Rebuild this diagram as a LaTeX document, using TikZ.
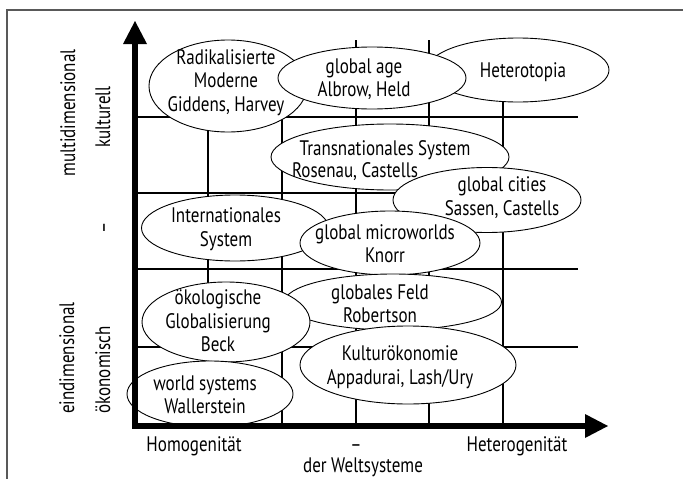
\documentclass[tikz,border=0pt]{standalone}
\usepackage{fontspec}
\setmainfont[FakeStretch=0.81]{PT Sans}
\usetikzlibrary{shapes.geometric}
\begin{document}
\begin{tikzpicture}[x=1pt,y=-1pt,
  ell/.style={ellipse, draw=black, line width=0.9pt, fill=white, inner sep=0pt},
  lbl/.style={font=\fontsize{21}{23.5}\selectfont, align=center, inner sep=0pt},
  gridline/.style={line width=1.4pt},
  axisline/.style={line width=6pt},
  framestyle/.style={draw=black!65, line width=1.3pt}]
\useasboundingbox (0,0) rectangle (683,479);
% frame
\draw[framestyle] (7,479) -- (7,10) -- (683,10);
% grid
\foreach \yy in {117,193,269,347} \draw[gridline] (135,\yy) -- (578,\yy);
\foreach \xx in {208,282} \draw[gridline] (\xx,117) -- (\xx,426);
\foreach \xx in {356,429,503} \draw[gridline] (\xx,40) -- (\xx,426);
% ellipses
\node[ell, minimum width=158pt, minimum height=92pt] (eRad) at (228,86) {};
\node[ell, minimum width=182pt, minimum height=64pt] (eHet) at (518,70) {};
\node[ell, minimum width=188pt, minimum height=62pt] (eAge) at (372,78) {};
\node[ell, minimum width=238pt, minimum height=66pt] (eTrans) at (390,157) {};
\node[ell, minimum width=188pt, minimum height=65pt] (eCities) at (487,200) {};
\node[ell, minimum width=187pt, minimum height=66pt] (eIntl) at (235,228) {};
\node[ell, minimum width=180pt, minimum height=64pt] (eMicro) at (390,243) {};
\node[ell, minimum width=217pt, minimum height=56pt] (eFeld) at (393,302) {};
\node[ell, minimum width=216pt, minimum height=78pt] (eKult) at (408,365) {};
\node[ell, minimum width=168pt, minimum height=80pt] (eOeko) at (226,322) {};
\node[ell, minimum width=166pt, minimum height=66pt] (eWorld) at (210,394) {};
% axes
\coordinate (O) at (135,426);
\coordinate (Ytip) at (135,21);
\coordinate (Xtip) at (608,426);
\draw[axisline] (135,43) -- (O) -- (586,426);
\fill (Ytip) -- ++(-12,23) -- ++(24,0) -- cycle;
\fill (Xtip) -- ++(-23,-12) -- ++(0,24) -- cycle;
% texts in ellipses
\node[lbl] (tRad) at (226,82.5) {Radikalisierte\\Moderne\\Giddens, Harvey};
\node[lbl] (tAge) at (364,79) {global age\\Albrow, Held};
\node[lbl] (tHet) at (523,72) {Heterotopia};
\node[lbl, anchor=base] (tTrans1) at (385,155) {Transnationales System};
\node[lbl, anchor=base] (tTrans2) at (355,177) {Rosenau, Castells};
\node[lbl] (tCities) at (502,197.5) {global cities\\Sassen, Castells};
\node[lbl] (tIntl) at (226,229) {Internationales\\System};
\node[lbl] (tMicro) at (385,243.5) {global microworlds\\Knorr};
\node[lbl] (tFeld) at (380,304) {globales Feld\\Robertson};
\node[lbl] (tOeko) at (218,321) {ökologische\\Globalisierung\\Beck};
\node[lbl] (tKult) at (400,367) {Kulturökonomie\\Appadurai, Lash/Ury};
\node[lbl] (tWorld) at (205,395) {world systems\\Wallerstein};
% axis labels
\node[lbl, anchor=base] (tHom) at (194,451) {Homogenität};
\node[lbl, anchor=base] (tDashB) at (356,451) {–};
\node[lbl, anchor=base] (tWelt) at (363,472) {der Weltsysteme};
\node[lbl, anchor=base] (tHetero) at (517,451) {Heterogenität};
\node[lbl, anchor=base, rotate=90] (tMulti) at (75,113) {multidimensional};
\node[lbl, anchor=base, rotate=90] (tKultur) at (110,117) {kulturell};
\node[lbl, anchor=base, rotate=90] (tDashL) at (110,228) {–};
\node[lbl, anchor=base, rotate=90] (tEin) at (74,358) {eindimensional};
\node[lbl, anchor=base, rotate=90] (tOekon) at (110,370) {ökonomisch};
\end{tikzpicture}
\end{document}
